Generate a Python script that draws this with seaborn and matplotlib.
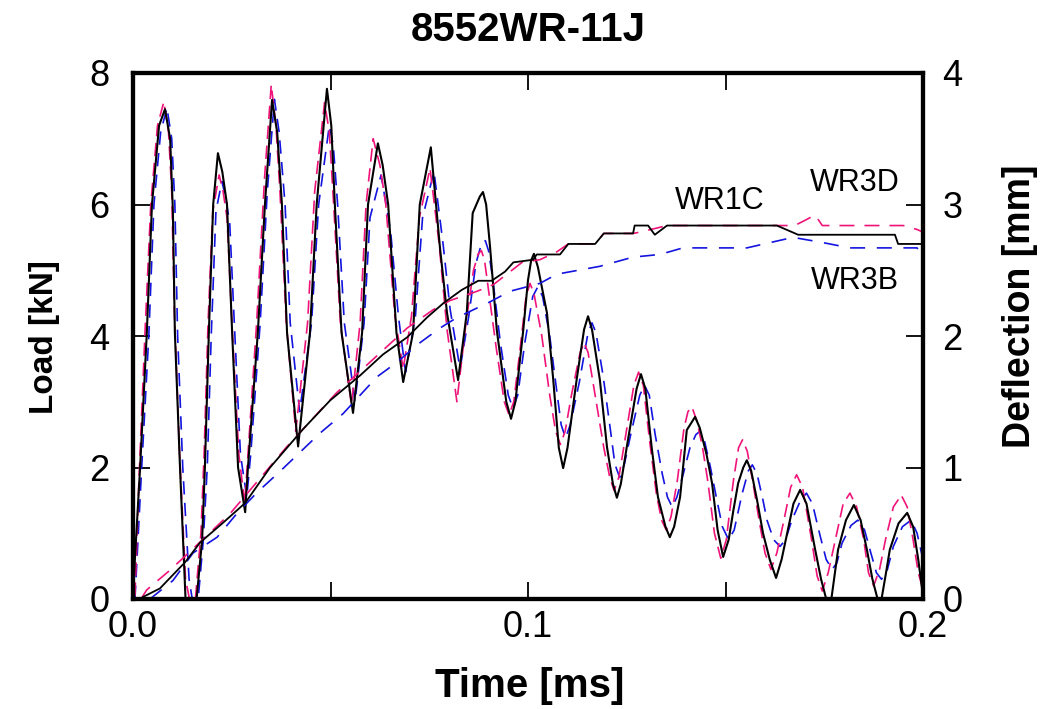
import matplotlib
matplotlib.use("Agg")
import matplotlib.pyplot as plt
import seaborn as sns
from matplotlib.ticker import FixedLocator

# ---------------- data ----------------
# Load [kN] vs time [ms]
t_load_wr1c = [0.0, 0.0018, 0.0035, 0.0048, 0.0066, 0.0081,
               0.0094, 0.0101, 0.0106, 0.0119, 0.0133, 0.0161,
               0.0175, 0.0182, 0.0192, 0.0203, 0.0215,
               0.0226, 0.0238, 0.0251, 0.0266, 0.0284,
               0.0291, 0.0316, 0.0334, 0.0352,
               0.0365, 0.0377, 0.039, 0.0418,
               0.0448, 0.0465, 0.0491,
               0.0502, 0.0511, 0.0528, 0.0557,
               0.058, 0.0595, 0.062,
               0.0632, 0.0646, 0.0667, 0.0684,
               0.0709, 0.0726, 0.0754,
               0.0777, 0.0795, 0.0823,
               0.0845, 0.086, 0.0878, 0.0886, 0.0894, 0.0904, 0.0921, 0.0945, 0.0957, 0.0968,
               0.0988, 0.1, 0.1008, 0.1015, 0.1025, 0.1048, 0.1064, 0.1078, 0.1089, 0.11,
               0.1123, 0.1142, 0.1152, 0.1162, 0.1182, 0.12, 0.1215, 0.1225, 0.1235, 0.125,
               0.1275, 0.1286, 0.1297, 0.1313, 0.1329, 0.1348, 0.1359, 0.137, 0.1385, 0.1402,
               0.1423, 0.1435, 0.1452, 0.1466, 0.148, 0.1494, 0.1508, 0.152, 0.1532, 0.1545,
               0.1554, 0.1565, 0.158, 0.1595, 0.1612, 0.1628, 0.1642, 0.1656, 0.1672, 0.1689,
               0.1705, 0.1727, 0.1742, 0.1755, 0.1768, 0.1776, 0.1785, 0.1805, 0.1825, 0.1842,
               0.1858, 0.1872, 0.1885, 0.1895, 0.1905, 0.1916, 0.1938, 0.196, 0.1975, 0.1988,
               0.2]
load_wr1c = [0.1, 2.0, 4.05, 6.0, 7.2, 7.45,
             7.0, 5.9, 4.05, 2.0, 0.0, 0.0,
             0.9, 2.0, 4.05, 6.0, 6.78,
             6.5, 6.0, 4.05, 2.0, 1.32,
             2.0, 4.05, 6.0, 7.59,
             7.1, 6.0, 4.05, 2.32,
             4.05, 6.0, 7.76,
             7.2, 6.0, 4.05, 2.83,
             4.05, 6.0, 6.93,
             6.6, 6.0, 4.05, 3.30,
             4.05, 6.0, 6.87,
             5.35, 4.35, 3.33,
             4.35, 5.87, 6.12, 6.19, 6.0, 5.35, 4.09, 3.0, 2.74, 3.0,
             4.09, 4.85, 5.15, 5.25, 5.05, 4.35, 3.33, 2.3, 1.99, 2.3,
             3.33, 4.1, 4.30, 4.1, 3.33, 2.31, 1.75, 1.54, 1.75, 2.31,
             3.2, 3.42, 3.2, 2.31, 1.55, 1.1, 0.94, 1.1, 1.55, 2.57,
             2.77, 2.6, 2.2, 1.76, 1.05, 0.64, 0.9, 1.35, 1.76, 2.0,
             2.11, 1.95, 1.5, 1.0, 0.6, 0.32, 0.6, 1.0, 1.45, 1.66,
             1.45, 0.75, 0.3, 0.0, 0.0, 0.35, 0.75, 1.2, 1.43, 1.2,
             0.75, 0.3, 0.0, 0.0, 0.35, 0.75, 1.15, 1.31, 1.1, 0.6,
             0.05]

t_load_wr3d = [0.0005, 0.0015, 0.003, 0.0045, 0.0062, 0.0078,
               0.009, 0.0098, 0.0105, 0.0118, 0.0133, 0.0143, 0.0158,
               0.0172, 0.018, 0.019, 0.0202, 0.0218,
               0.0228, 0.0238, 0.0252, 0.0268, 0.0283,
               0.029, 0.0313, 0.0333, 0.035,
               0.0362, 0.0372, 0.0388, 0.0412,
               0.0442, 0.046, 0.0485,
               0.0497, 0.0508, 0.0525, 0.0553,
               0.0575, 0.059, 0.0608,
               0.0625, 0.064, 0.0663, 0.0684,
               0.0705, 0.0725, 0.0752,
               0.0775, 0.0795, 0.082,
               0.0843, 0.0862, 0.0874, 0.0882, 0.089, 0.09, 0.092, 0.094, 0.0952, 0.0964,
               0.098, 0.0995, 0.1005, 0.1015, 0.1035, 0.1055, 0.107, 0.1082, 0.1094, 0.111,
               0.1132, 0.1142, 0.1152, 0.117, 0.1192, 0.1207, 0.1218, 0.123, 0.1245, 0.1268,
               0.128, 0.1292, 0.1308, 0.1325, 0.1338, 0.135, 0.1362, 0.1378, 0.1395, 0.1405,
               0.1415, 0.1428, 0.1442, 0.1455, 0.1472, 0.1488, 0.1502, 0.152, 0.1533, 0.1543,
               0.1555, 0.157, 0.1585, 0.16, 0.1615, 0.163, 0.1648, 0.1665, 0.168, 0.1695,
               0.1718, 0.1732, 0.1745, 0.176, 0.1778, 0.1798, 0.1815, 0.1832, 0.185, 0.1862,
               0.1875, 0.189, 0.1905, 0.1925, 0.1945, 0.196, 0.1975, 0.1988, 0.2]
load_wr3d = [0.05, 1.8, 4.0, 6.0, 7.2, 7.56,
             7.1, 6.2, 4.3, 2.2, 0.3, 0.0, 0.0,
             1.0, 2.2, 4.2, 5.9, 6.45,
             6.2, 5.8, 4.0, 2.2, 1.45,
             2.1, 4.2, 6.4, 7.82,
             7.2, 6.2, 4.2, 2.55,
             4.2, 6.2, 7.55,
             7.1, 6.0, 4.2, 2.95,
             4.2, 6.0, 7.0,
             6.6, 6.0, 4.3, 3.5,
             4.3, 5.8, 6.55,
             5.4, 4.1, 3.0,
             4.2, 5.0, 5.25, 5.3, 5.15, 4.7, 3.8, 3.0, 2.8, 3.0,
             3.8, 4.6, 4.8, 4.65, 4.0, 3.1, 2.55, 2.35, 2.55, 3.1,
             3.75, 3.9, 3.75, 3.1, 2.3, 1.85, 1.65, 1.85, 2.4, 3.25,
             3.45, 3.25, 2.4, 1.6, 1.2, 1.05, 1.25, 1.8, 2.6, 2.85,
             2.92, 2.7, 2.3, 1.8, 1.0, 0.62, 0.9, 1.8, 2.3, 2.42,
             2.25, 1.75, 1.2, 0.7, 0.45, 0.7, 1.2, 1.7, 1.89, 1.7,
             0.9, 0.35, 0.12, 0.4, 0.9, 1.45, 1.61, 1.4, 0.9, 0.4,
             0.2, 0.45, 0.9, 1.4, 1.58, 1.4, 0.9, 0.4, 0.14]

t_load_wr3b = [0.0005, 0.0022, 0.004, 0.0053, 0.007, 0.0086,
               0.0098, 0.0106, 0.0113, 0.0126, 0.0142, 0.015, 0.0165,
               0.0178, 0.0188, 0.0198, 0.021, 0.0225,
               0.0235, 0.0245, 0.0258, 0.0272, 0.0288,
               0.0298, 0.0322, 0.034, 0.0358,
               0.037, 0.0385, 0.0398, 0.0422,
               0.0452, 0.047, 0.0497,
               0.0507, 0.0518, 0.0535, 0.0562,
               0.0585, 0.06, 0.0628,
               0.0652, 0.0672, 0.069,
               0.0715, 0.0733, 0.0762,
               0.0785, 0.0803, 0.0828,
               0.085, 0.0868, 0.0882, 0.0892, 0.09, 0.091, 0.093, 0.095, 0.0962, 0.0974,
               0.0992, 0.1012, 0.1025, 0.1037, 0.1055, 0.1072, 0.1084, 0.1095, 0.1107, 0.113,
               0.1152, 0.1162, 0.1172, 0.119, 0.1208, 0.122, 0.1232, 0.1244, 0.126, 0.1283,
               0.1295, 0.1307, 0.1322, 0.134, 0.1353, 0.1365, 0.1377, 0.1393, 0.141, 0.1425,
               0.1435, 0.1447, 0.1462, 0.1475, 0.1492, 0.1508, 0.1522, 0.1542, 0.1558, 0.1568,
               0.158, 0.1595, 0.1605, 0.1622, 0.1638, 0.1652, 0.1668, 0.169, 0.1705, 0.172,
               0.174, 0.1755, 0.177, 0.1782, 0.1795, 0.1818, 0.1835, 0.1852, 0.1868, 0.1882,
               0.1895, 0.191, 0.1925, 0.1948, 0.197, 0.1985, 0.2]
load_wr3b = [0.0, 2.0, 4.0, 6.0, 7.1, 7.47,
             7.0, 6.0, 4.0, 2.0, 0.3, 0.0, 0.0,
             0.9, 2.0, 4.0, 5.9, 6.35,
             6.1, 5.7, 4.0, 2.2, 1.55,
             2.2, 4.2, 6.2, 7.6,
             7.1, 6.0, 4.2, 2.85,
             4.2, 6.0, 7.2,
             6.9, 6.0, 4.2, 3.0,
             4.2, 5.8, 6.45,
             5.6, 4.3, 3.45,
             4.3, 5.8, 6.5,
             5.4, 4.4, 3.5,
             4.3, 5.1, 5.4, 5.45, 5.3, 4.9, 3.9, 3.1, 2.9, 3.1,
             3.9, 4.6, 4.75, 4.6, 4.0, 3.2, 2.65, 2.45, 2.65, 3.3,
             4.05, 4.2, 4.05, 3.4, 2.6, 2.05, 1.85, 2.05, 2.5, 3.1,
             3.25, 3.1, 2.5, 1.9, 1.55, 1.4, 1.55, 1.9, 2.3, 2.5,
             2.55, 2.4, 2.0, 1.6, 1.1, 0.9, 1.05, 1.6, 1.95, 2.04,
             1.9, 1.5, 1.2, 0.9, 0.8, 0.9, 1.2, 1.5, 1.61, 1.45,
             0.95, 0.6, 0.45, 0.55, 0.85, 1.12, 1.2, 1.05, 0.7, 0.4,
             0.3, 0.45, 0.8, 1.1, 1.2, 1.0, 0.6]

# Deflection [mm] vs time [ms]
t_defl_wr1c = [0.002, 0.0025, 0.0068, 0.0132, 0.017, 0.0228, 0.0284, 0.0347,
               0.043, 0.0499, 0.0575, 0.0633, 0.0694, 0.0744, 0.0786, 0.0832,
               0.0874, 0.0908, 0.0942, 0.0963, 0.1013, 0.1022, 0.1081, 0.1102,
               0.117, 0.1192, 0.1266, 0.127, 0.1304, 0.1321, 0.1352, 0.163,
               0.1684, 0.1929, 0.1937, 0.2]
defl_wr1c = [0.0, 0.015, 0.08, 0.28, 0.43, 0.58, 0.73, 1.0,
             1.29, 1.51, 1.70, 1.86, 1.99, 2.14, 2.25, 2.35,
             2.42, 2.42, 2.49, 2.56, 2.58, 2.62, 2.62, 2.70,
             2.70, 2.78, 2.78, 2.84, 2.84, 2.77, 2.84, 2.84,
             2.77, 2.77, 2.70, 2.70]

t_defl_wr3d = [0.002, 0.0035, 0.0094, 0.0144, 0.0246, 0.039, 0.0516, 0.0694,
               0.076, 0.0803, 0.0871, 0.0912, 0.0985, 0.103, 0.1073, 0.1102,
               0.117, 0.1192, 0.1266, 0.1284, 0.1352, 0.163, 0.1675, 0.1695,
               0.1727, 0.1745, 0.195, 0.1985, 0.2]
defl_wr3d = [0.0, 0.07, 0.22, 0.36, 0.65, 1.16, 1.57, 2.06,
             2.20, 2.27, 2.34, 2.39, 2.56, 2.58, 2.64, 2.70,
             2.70, 2.78, 2.78, 2.79, 2.84, 2.84, 2.84, 2.87,
             2.92, 2.84, 2.84, 2.81, 2.79]

t_defl_wr3b = [0.0043, 0.0101, 0.0152, 0.0213, 0.0263, 0.0314, 0.0372, 0.0473,
               0.0532, 0.0618, 0.0668, 0.0727, 0.0777, 0.082, 0.0904, 0.0954,
               0.103, 0.1073, 0.1182, 0.1266, 0.1334, 0.1392, 0.1554, 0.1671,
               0.1747, 0.1815, 0.1985, 0.2]
defl_wr3b = [0.0, 0.14, 0.35, 0.47, 0.65, 0.81, 0.97, 1.26,
             1.41, 1.69, 1.80, 1.95, 2.06, 2.14, 2.26, 2.34,
             2.40, 2.47, 2.53, 2.60, 2.62, 2.67, 2.67, 2.75,
             2.71, 2.67, 2.67, 2.60]

series_names = ["WR1C", "WR3D", "WR3B"]
x_major_ticks = [0.0, 0.1, 0.2]
x_tick_labels = ["0.0", "0.1", "0.2"]
x_minor_ticks = [0.05, 0.15]
load_ticks = [0, 2, 4, 6, 8]
defl_ticks = [0, 1, 2, 3, 4]

# ---------------- style ----------------
sns.set_theme(style="white")
plt.rcParams["font.family"] = ["Liberation Sans", "DejaVu Sans"]
plt.rcParams["text.color"] = "black"
plt.rcParams["axes.labelcolor"] = "black"
plt.rcParams["xtick.color"] = "black"
plt.rcParams["ytick.color"] = "black"

BLACK = "#000000"
PINK = "#f0147a"
BLUE = "#1414e0"

fig = plt.figure(figsize=(10.52, 7.09), dpi=100)
ax = fig.add_axes([133 / 1052, 1 - 599 / 709, 790 / 1052, 526 / 709])
ax2 = ax.twinx()

kw = dict(sort=False, estimator=None, legend=False)
# load traces
sns.lineplot(x=t_load_wr3b, y=load_wr3b, ax=ax, color=BLUE, lw=1.2,
             linestyle=(0, (8, 5)), **kw)
sns.lineplot(x=t_load_wr3d, y=load_wr3d, ax=ax, color=PINK, lw=1.2,
             linestyle=(0, (8, 4)), **kw)
sns.lineplot(x=t_load_wr1c, y=load_wr1c, ax=ax, color=BLACK, lw=1.5, **kw)
# deflection traces
sns.lineplot(x=t_defl_wr3b, y=defl_wr3b, ax=ax2, color=BLUE, lw=1.2,
             linestyle=(0, (9, 7)), **kw)
sns.lineplot(x=t_defl_wr3d, y=defl_wr3d, ax=ax2, color=PINK, lw=1.2,
             linestyle=(0, (9, 6)), **kw)
sns.lineplot(x=t_defl_wr1c, y=defl_wr1c, ax=ax2, color=BLACK, lw=1.3, **kw)

ax.set_xlim(0, 0.2)
ax.set_ylim(0, 8)
ax2.set_ylim(0, 4)

ax.xaxis.set_major_locator(FixedLocator(x_major_ticks))
ax.set_xticklabels(x_tick_labels)
ax.xaxis.set_minor_locator(FixedLocator(x_minor_ticks))
ax.set_yticks(load_ticks)
ax.set_yticklabels([str(v) for v in load_ticks])
ax2.set_yticks(defl_ticks)
ax2.set_yticklabels([str(v) for v in defl_ticks])

ax.tick_params(axis="x", which="both", direction="in", top=True, bottom=True,
               length=12, width=1.3, labelsize=26, pad=8, colors="black")
ax.tick_params(axis="y", which="both", direction="in", left=True, right=False,
               length=12, width=1.3, labelsize=26, pad=17, colors="black")
ax2.tick_params(axis="y", which="both", direction="in", right=True,
                length=12, width=1.3, labelsize=26, pad=14, colors="black")

for a in (ax, ax2):
    for s in a.spines.values():
        s.set_visible(True)
        s.set_linewidth(3)
        s.set_color("black")
    a.set_xlabel("")
    a.set_ylabel("")
    a.grid(False)

# series annotations
ax2.text(0.1486, 3.03, series_names[0], fontsize=22, ha="center", va="center")
ax2.text(0.1828, 3.16, series_names[1], fontsize=22, ha="center", va="center")
ax2.text(0.1828, 2.42, series_names[2], fontsize=22, ha="center", va="center")

# titles / axis labels
fig.text(528 / 1052, 1 - 30 / 709, "8552WR-11J", ha="center", va="center",
         fontsize=29, fontweight="bold")
fig.text(530 / 1052, 1 - 686 / 709, "Time [ms]", ha="center", va="center",
         fontsize=29, fontweight="bold")
fig.text(45 / 1052, 1 - 337 / 709, "Load [kN]", ha="center", va="center",
         rotation=90, fontsize=24, fontweight="bold")
fig.text(1020 / 1052, 1 - 306 / 709, "Deflection [mm]", ha="center", va="center",
         rotation=90, fontsize=27, fontweight="bold")

fig.savefig("out.png", dpi=100, facecolor="white")
